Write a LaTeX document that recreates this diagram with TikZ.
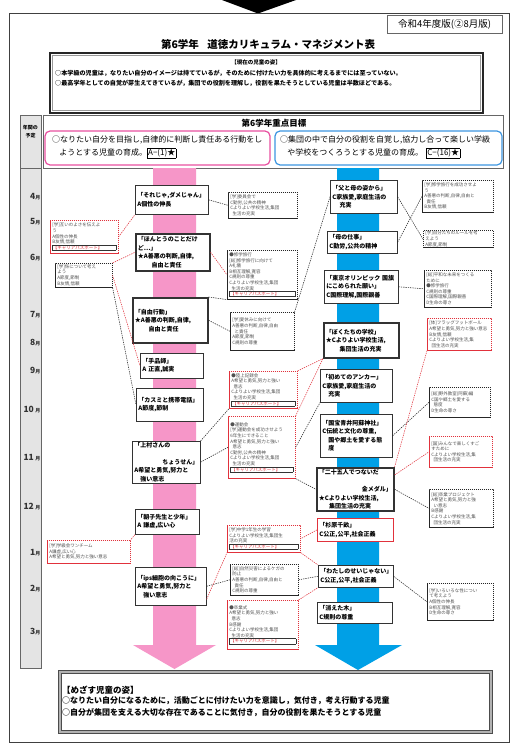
\documentclass[tikz,border=0pt]{standalone}
\usepackage{fontspec}
\setmainfont{Noto Sans CJK JP}
\definecolor{pinkband}{RGB}{246,150,200}
\definecolor{blueband}{RGB}{0,160,230}
\definecolor{pinkline}{RGB}{232,80,160}
\definecolor{blueline}{RGB}{60,150,225}
\definecolor{redd}{RGB}{225,50,60}
\definecolor{graytxt}{RGB}{80,80,80}
\definecolor{colgray}{RGB}{228,228,228}
\newcommand\mybox[7]{%
  \pgfmathsetmacro\myW{#5-#3}%
  \pgfmathsetmacro\myH{#6-#4}%
  \pgfmathsetmacro\myT{#5-#3-4}%
  \node[#1, anchor=north west, minimum width=\myW pt, minimum height=\myH pt, text width=\myT pt, inner xsep=2pt] (#2) at (#3,#4) {#7};}
\newcommand\cpass{{\color{black!80}\setlength\fboxsep{0.3pt}\setlength\fboxrule{0.4pt}\fbox{\makebox[\dimexpr\linewidth-1.4pt\relax][l]{\textcolor{redd}{【キャリアパスポート】}}}}}
\tikzset{
  lesson/.style={draw=black!80, line width=0.6pt, fill=white, font=\fontsize{6}{8.5}\selectfont\bfseries, inner ysep=1pt, align=left},
  lessonthick/.style={lesson, line width=1.6pt},
  lessonred/.style={lesson, draw=redd, line width=0.8pt},
  sbase/.style={fill=white, line width=0.6pt, dash pattern=on 1.2pt off 0.8pt, font=\fontsize{4.5}{5.6}\selectfont, text=graytxt, inner ysep=0.8pt, align=left},
  sbk/.style={sbase, draw=black!85},
  sbr/.style={sbase, draw=redd},
  conn/.style={dash pattern=on 1.3pt off 1pt, line width=0.55pt},
  cbk/.style={conn, draw=black!85},
  crd/.style={conn, draw=redd},
  month/.style={font=\fontsize{8.5}{9}\selectfont\bfseries, anchor=east, inner sep=0.5pt, text=black!80},
}
\newcommand\mo[1]{#1{\fontsize{5}{5}\selectfont 月}}
\begin{document}
\begin{tikzpicture}[x=1pt,y=-1pt]
\useasboundingbox (0,0) rectangle (512,755);
\fill[white] (0,0) rectangle (512,755);
% top arrow
\fill[black] (222,0) -- (296,0) -- (258,13.5) -- cycle;
% frame
\draw[draw=black!75, line width=0.8pt] (9,13) rectangle (509,742);
% version
\node[draw=black!60, line width=0.5pt, minimum width=115pt, minimum height=18pt, inner sep=0pt, font=\fontsize{9.5}{10}\selectfont] (ver) at (444.5,24) {令和4年度版(②8月版)};
% title
\node[font=\fontsize{10.5}{12}\selectfont\bfseries] (title) at (268,44) {第6学年\hspace{0.8em}道徳カリキュラム・マネジメント表};
% current state box
\draw[line width=1.8pt, black!85] (50,53) rectangle (483,113);
\draw[line width=0.4pt, black!40] (52.5,55.5) rectangle (480.5,110.5);
\node[font=\fontsize{5.5}{6}\selectfont\bfseries] (cur) at (256,62) {【現在の児童の姿】};
\node[anchor=west, inner sep=0pt, font=\fontsize{6.1}{7}\selectfont\bfseries] (cur1) at (55,73) {○本学級の児童は，なりたい自分のイメージは持てているが，そのために付けたい力を具体的に考えるまでには至っていない。};
\node[anchor=west, inner sep=0pt, font=\fontsize{6.1}{7}\selectfont\bfseries] (cur2) at (55,83) {○最高学年としての自覚が芽生えてきているが，集団での役割を理解し，役割を果たそうとしている児童は半数ほどである。};
% gray column
\draw[draw=black!60, fill=colgray, line width=0.5pt] (20,115) rectangle (41,668);
\draw[draw=black!60, line width=0.5pt] (20,168) -- (41,168);
\node[font=\fontsize{5}{8}\selectfont\bfseries, align=center, inner sep=0pt] (nenkan) at (30.5,132) {年間の\\予定};
% goal box
\draw[draw=black!60, line width=0.5pt, fill=white] (43,115) rectangle (503,168);
\node[font=\fontsize{8.5}{10}\selectfont\bfseries] (goal) at (274,123) {第6学年重点目標};
\draw[pinkline, line width=1.2pt, rounded corners=5pt] (45,131) rectangle (270,165);
\draw[blueline, line width=1.2pt, rounded corners=5pt] (275,131) rectangle (502,165);
\node[anchor=north west, inner sep=0pt, align=left, font=\fontsize{8}{13}\selectfont] (pg) at (52,136) {○なりたい自分を目指し,自律的に判断し責任ある行動をし\\\hspace*{0.9em}ようとする児童の育成。{\setlength\fboxsep{0.6pt}\fbox{A−(1)★}}};
\node[anchor=north west, inner sep=0pt, align=left, font=\fontsize{8}{13}\selectfont] (bg) at (280,136) {○集団の中で自分の役割を自覚し,協力し合って楽しい学級\\\hspace*{0.9em}や学校をつくろうとする児童の育成。\hspace{0.4em}{\setlength\fboxsep{0.6pt}\fbox{C−(16)★}}};
% months
\node[month] (m4) at (41,197) {\mo{4}};
\node[month] (m5) at (41,222) {\mo{5}};
\node[month] (m6) at (41,258) {\mo{6}};
\node[month] (m7) at (41,315) {\mo{7}};
\node[month] (m8) at (41,343) {\mo{8}};
\node[month] (m9) at (41,371) {\mo{9}};
\node[month] (m10) at (41,410) {\mo{10\,}};
\node[month] (m11) at (41,458) {\mo{11\,}};
\node[month] (m12) at (41,507) {\mo{12\,}};
\node[month] (m1) at (41,553) {\mo{1}};
\node[month] (m2) at (41,589) {\mo{2}};
\node[month] (m3) at (41,632) {\mo{3}};
% bands
\fill[pinkband] (153,168) -- (196,168) -- (196,645) -- (216,645) -- (174.5,669) -- (133,645) -- (153,645) -- cycle;
\fill[blueband] (337,168) -- (379,168) -- (379,645) -- (402,645) -- (358,670) -- (315,645) -- (337,645) -- cycle;
% bottom box
\draw[line width=3pt, draw=black!30] (59.5,671.5) rectangle (490.5,731.5);
\draw[line width=0.5pt, black!70] (58,670) rectangle (492,733);
\draw[line width=0.5pt, black!70] (61,673) rectangle (489,730);
\node[anchor=west, inner sep=0pt, font=\fontsize{8.5}{10}\selectfont\bfseries] (aim) at (62,690) {【めざす児童の姿】};
\node[anchor=west, inner sep=0pt, font=\fontsize{8}{10}\selectfont\bfseries] (aim1) at (62,701) {○なりたい自分になるために，活動ごとに付けたい力を意識し，気付き，考え行動する児童};
\node[anchor=west, inner sep=0pt, font=\fontsize{8}{10}\selectfont\bfseries] (aim2) at (62,713) {○自分が集団を支える大切な存在であることに気付き，自分の役割を果たそうとする児童};
% left lessons
\mybox{lesson}{b1}{135}{185}{208}{214}{「それじゃ,ダメじゃん」\\A個性の伸長}
\mybox{lessonthick}{b2}{135}{233}{209}{270}{「ほんとうのことだけ\\ど…」\\★A善悪の判断,自律,\\\hspace*{2.3em}自由と責任}
\mybox{lessonthick}{b3}{132}{297}{207}{342}{「自由行動」\\★A善悪の判断,自律,\\\hspace*{2.3em}自由と責任}
\mybox{lesson}{b4}{140}{353}{203}{378}{「手品師」\\A 正直,誠実}
\mybox{lesson}{b5}{136}{388}{203}{421}{「カスミと携帯電話」\\A節度,節制}
\mybox{lesson}{b6}{132}{441}{200}{482}{「上村さんの\\\null\hfill ちょうせん」\\A希望と勇気,努力と\\\hspace*{1em}強い意志}
\mybox{lesson}{b7}{135}{509}{199}{534}{「朝子先生と少年」\\A 謙虚,広い心}
\mybox{lesson}{b8}{135}{567}{206}{605}{「ips細胞の向こうに」\\A希望と勇気,努力と\\\hspace*{1em}強い意志}
% right lessons
\mybox{lesson}{c1}{330}{180}{397}{213}{「父と母の姿から」\\C家族愛,家庭生活の\\\hspace*{1.2em}充実}
\mybox{lesson}{c2}{327}{231}{397}{253}{「母の仕事」\\C勤労,公共の精神}
\mybox{lesson}{c3}{324}{270}{398}{303}{「東京オリンピック\hspace{0.3em}国旗\\にこめられた願い」\\C国際理解,国際親善}
\mybox{lessonthick}{c4}{323}{322}{398}{357}{「ぼくたちの学校」\\★Cよりよい学校生活,\\\hspace*{2.3em}集団生活の充実}
\mybox{lesson}{c5}{320}{369}{392}{402}{「初めてのアンカー」\\C家族愛,家庭生活の\\\hspace*{1em}充実}
\mybox{lesson}{c6}{320}{414}{392}{457}{「国宝青井阿蘇神社」\\C伝統と文化の尊重,\\\hspace*{1em}国や郷土を愛する態\\\hspace*{1em}度}
\mybox{lessonthick}{c7}{316}{467}{393}{510}{「二十五人でつないだ\\\null\hfill 金メダル」\\★Cよりよい学校生活,\\\hspace*{1.7em}集団生活の充実}
\mybox{lessonred}{c8}{317}{518}{393}{541}{「杉原千畝」\\C公正,公平,社会正義}
\mybox{lesson}{c9}{318}{565}{393}{587}{「わたしのせいじゃない」\\C公正,公平,社会正義}
\mybox{lesson}{c10}{317}{602}{392}{623}{「消えた木」\\C規則の尊重}
% small boxes left
\mybox{sbr}{L1}{50}{220}{118}{253}{[学]互いのよさを伝えよ\\う\\A個性の伸長\\B友情,信頼\\\cpass}
\mybox{sbk}{L2}{55}{263}{112}{287}{[学]係について考え\\よう\\A節度,節制\\B友情,信頼}
\mybox{sbr}{L3}{47}{540}{130}{563}{[学]学級会ワンチーム\\A謙虚,広い心\\A希望と勇気,努力と強い意志}
% small boxes middle
\mybox{sbk}{M1}{228}{192}{297}{218}{[学]委員会で\\C勤労,公共の精神\\Cよりよい学校生活,集団\\\hspace*{0.5em}生活の充実}
\mybox{sbk}{M2}{227}{250}{297}{299}{●修学旅行\\{}[総]修学旅行に向けて\\A礼儀\\B相互理解,寛容\\C規則の尊重\\Cよりよい学校生活,集団\\\hspace*{0.5em}生活の充実\\\cpass}
\mybox{sbk}{M3}{230}{312}{294}{350}{[学]夏休みに向けて\\A善悪の判断,自律,自由\\\hspace*{0.5em}と責任\\A節度,節制\\C規則の尊重}
\mybox{sbr}{M4}{229}{371}{297}{408}{●陸上記録会\\A希望と勇気,努力と強い\\\hspace*{0.5em}意志\\Cよりよい学校生活,集団\\\hspace*{0.5em}生活の充実\\\cpass}
\mybox{sbr}{M5}{228}{416}{295}{478}{●運動会\\{}[学]運動会を成功させよう\\6年生にできること\\A希望と勇気,努力と強い\\\hspace*{0.5em}意志\\C勤労,公共の精神\\Cよりよい学校生活,集団\\\hspace*{0.5em}生活の充実\\\cpass}
\mybox{sbr}{M6}{227}{525}{300}{552}{[学]中学1年生の学習\\Cよりよい学校生活,集団生\\活の充実\\\cpass}
\mybox{sbk}{M7}{230}{564}{298}{595}{[総]自然災害によるケガの\\防止\\A善悪の判断,自律,自由と\\\hspace*{0.5em}責任\\C規則の尊重}
\mybox{sbr}{M8}{227}{600}{298}{649}{●卒業式\\A希望と勇気,努力と強い\\\hspace*{0.5em}意志\\B感謝\\Cよりよい学校生活,集団\\\hspace*{0.5em}生活の充実\\\cpass}
% small boxes right
\mybox{sbk}{R1}{422}{180}{493}{212}{[学]修学旅行を成功させよ\\う\\A善悪の判断,自律,自由と\\\hspace*{0.5em}責任\\B友情,信頼}
\mybox{sbk}{R2}{423}{230}{493}{247}{[学]自分たちのルールを考\\えよう\\A節度,節制}
\mybox{sbk}{R3}{424}{270}{491}{307}{[総]平和な未来をつくる\\ために\\●修学旅行\\C規則の尊重\\C国際理解,国際親善\\D生命の尊さ}
\mybox{sbr}{R4}{427}{318}{491}{350}{[体]フラッグフットボール\\A希望と勇気,努力と強い意志\\B友情,信頼\\Cよりよい学校生活,集\\\hspace*{0.5em}団生活の充実}
\mybox{sbk}{R5}{429}{387}{490}{417}{[総]野外教室(阿蘇)編\\C国や郷土を愛する\\\hspace*{0.5em}態度\\D生命の尊さ}
\mybox{sbr}{R6}{429}{436}{492}{467}{[国]みんなで楽しくすご\\すために\\Cよりよい学校生活,集\\\hspace*{0.5em}団生活の充実}
\mybox{sbk}{R7}{429}{489}{493}{527}{[総]卒業プロジェクト\\A希望と勇気,努力と強\\\hspace*{0.5em}い意志\\B感謝\\Cよりよい学校生活,集\\\hspace*{0.5em}団生活の充実}
\mybox{sbk}{R8}{427}{583}{493}{620}{[学]いろいろな性につい\\て考えよう\\A個性の伸長\\B相互理解,寛容\\D生命の尊さ}
% connectors
\draw[crd] (L1.east) -- (b1.south west);
\draw[cbk] (b1.east) -- (M1.west);
\draw[crd] (L2.north east) -- (b2.west);
\draw[crd] (b2.east) -- (M2.west);
\draw[cbk] (b3.north east) -- (M2.south west);
\draw[cbk] (b3.east) -- (M3.west);
\draw[cbk] (M3.north east) -- (c1.west);
\draw[crd] (L2.east) -- (b4.west);
\draw[cbk] (L2.south east) -- (b5.west);
\draw[cbk] (b6.north east) -- (M4.south west);
\draw[cbk] (b6.east) -- (M5.west);
\draw[crd] (M4.north east) -- (c4.south west);
\draw[crd] (M5.north east) -- (c4.south west);
\draw[cbk] (M5.east) -- (c5.south west);
\draw[cbk] (M5.south east) -- (c7.west);
\draw[cbk] (c6.east) -- (R5.west);
\draw[crd] (c7.north east) -- (R4.south west);
\draw[crd] (c7.20) -- (R6.west);
\draw[cbk] (c7.east) -- (R7.west);
\draw[crd] (c8.west) -- (M6.east);
\draw[crd] (M6.south east) -- (c9.north west);
\draw[cbk] (c9.west) -- (M7.east);
\draw[cbk] (c9.east) -- (R8.west);
\draw[cbk] (b8.east) -- (M7.west);
\draw[crd] (b8.-20) -- (M6.south west);
\draw[crd] (M8.north east) -- (c9.south west);
\draw[crd] (b7.south west) -- (L3.north east);
\draw[cbk] (c2.east) -- (R1.west);
\draw[cbk] (c1.east) -- (R2.west);
\draw[cbk] (c3.east) -- (R3.west);
\end{tikzpicture}
\end{document}
